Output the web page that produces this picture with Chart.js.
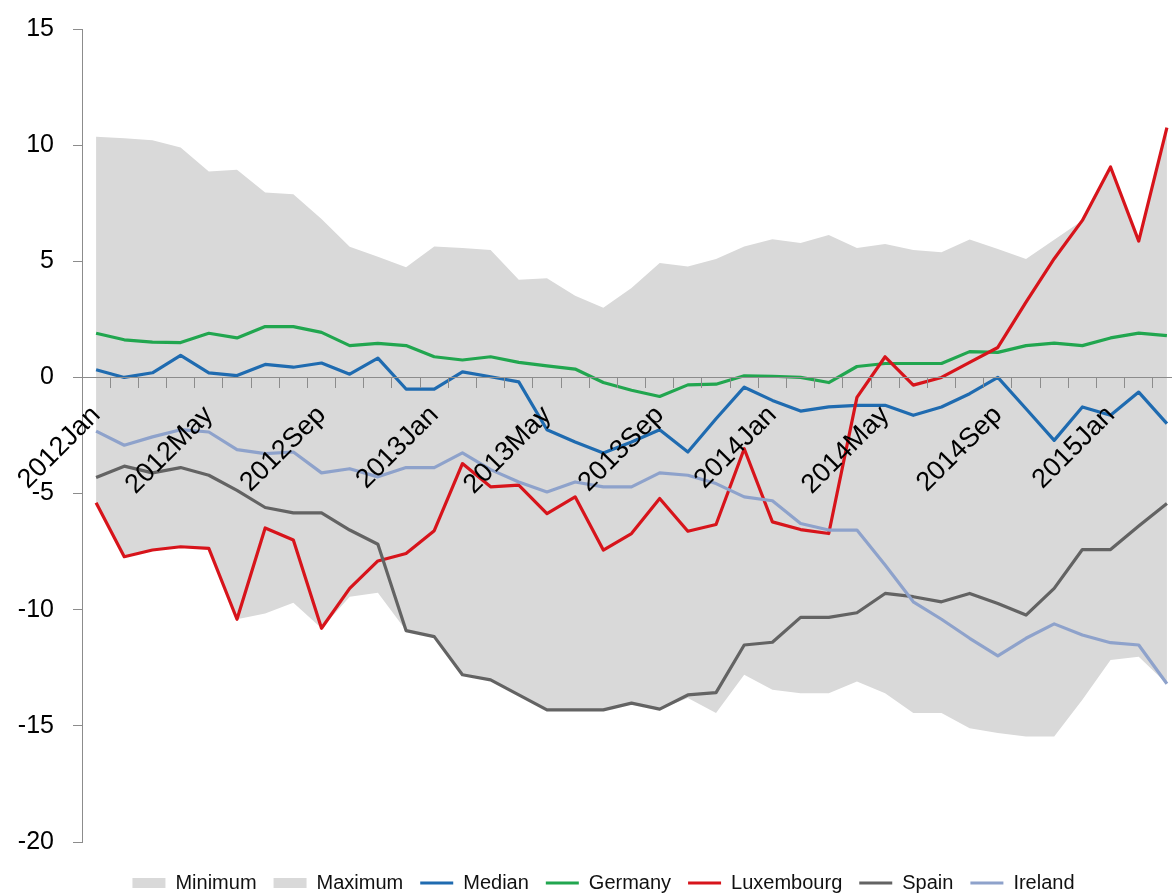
<!DOCTYPE html>
<html>
<head>
<meta charset="utf-8">
<script src="https://cdn.jsdelivr.net/npm/chart.js@4.4.1/dist/chart.umd.min.js"></script>
<style>
html,body{margin:0;padding:0;overflow:hidden;background:#fff;width:1172px;height:893px;}
canvas{display:block;}
</style>
</head>
<body>
<canvas id="c" width="1181" height="903"></canvas>
<script>
const categories = ['2012Jan','2012Feb','2012Mar','2012Apr','2012May','2012Jun','2012Jul','2012Aug','2012Sep','2012Oct','2012Nov','2012Dec',
  '2013Jan','2013Feb','2013Mar','2013Apr','2013May','2013Jun','2013Jul','2013Aug','2013Sep','2013Oct','2013Nov','2013Dec',
  '2014Jan','2014Feb','2014Mar','2014Apr','2014May','2014Jun','2014Jul','2014Aug','2014Sep','2014Oct','2014Nov','2014Dec',
  '2015Jan','2015Feb','2015Mar'];

const minimum = [-5.4,-7.72,-7.43,-7.29,-7.36,-10.41,-10.16,-9.7,-10.8,-9.44,-9.27,-10.9,-11.16,-12.8,-13.02,-13.67,-14.31,-14.31,-14.31,-14.02,-14.28,-13.8,-14.45,-12.8,-13.45,-13.6,-13.6,-13.09,-13.6,-14.45,-14.45,-15.1,-15.31,-15.46,-15.46,-13.88,-12.16,-12.02,-13.19];
const maximum = [10.36,10.3,10.21,9.9,8.87,8.94,7.96,7.89,6.82,5.63,5.2,4.74,5.64,5.57,5.49,4.2,4.27,3.52,3.0,3.85,4.93,4.78,5.1,5.64,5.95,5.79,6.13,5.57,5.74,5.49,5.39,5.94,5.53,5.1,5.93,6.76,9.06,5.87,10.75];
const median = [0.33,0.0,0.2,0.95,0.2,0.08,0.56,0.44,0.62,0.14,0.83,-0.5,-0.5,0.24,0.03,-0.19,-2.25,-2.78,-3.25,-2.78,-2.25,-3.21,-1.78,-0.42,-0.99,-1.45,-1.27,-1.2,-1.2,-1.63,-1.27,-0.7,0.0,-1.35,-2.71,-1.27,-1.63,-0.63,-1.99];
const germany = [1.9,1.62,1.52,1.5,1.9,1.7,2.19,2.19,1.94,1.37,1.47,1.37,0.89,0.75,0.89,0.65,0.5,0.36,-0.22,-0.55,-0.82,-0.32,-0.29,0.07,0.05,0.0,-0.22,0.47,0.6,0.6,0.6,1.11,1.08,1.37,1.48,1.37,1.7,1.91,1.8];
const luxembourg = [-5.4,-7.72,-7.43,-7.29,-7.36,-10.41,-6.48,-7.0,-10.8,-9.08,-7.9,-7.58,-6.6,-3.71,-4.71,-4.64,-5.86,-5.14,-7.43,-6.72,-5.21,-6.62,-6.33,-3.07,-6.22,-6.55,-6.72,-0.86,0.89,-0.33,0.0,0.65,1.29,3.24,5.11,6.76,9.06,5.87,10.75];
const spain = [-4.31,-3.82,-4.11,-3.88,-4.21,-4.86,-5.6,-5.83,-5.83,-6.57,-7.18,-10.9,-11.16,-12.8,-13.02,-13.67,-14.31,-14.31,-14.31,-14.02,-14.28,-13.67,-13.57,-11.52,-11.4,-10.33,-10.33,-10.13,-9.3,-9.44,-9.66,-9.3,-9.73,-10.23,-9.08,-7.41,-7.41,-6.4,-5.43];
const ireland = [-2.31,-2.92,-2.56,-2.25,-2.35,-3.11,-3.28,-3.21,-4.11,-3.93,-4.28,-3.88,-3.88,-3.25,-3.97,-4.5,-4.93,-4.5,-4.71,-4.71,-4.11,-4.21,-4.57,-5.14,-5.31,-6.29,-6.57,-6.57,-8.08,-9.66,-10.41,-11.23,-11.99,-11.23,-10.61,-11.09,-11.42,-11.52,-13.19];

const yTicks = [-20,-15,-10,-5,0,5,10,15];
const labelEvery = 4;

Chart.defaults.font.family = "'Liberation Sans', Arial, sans-serif";
Chart.defaults.color = '#000';

const AREA = '#d9d9d9';
function areaSet(label, data, order) {
  return { label, data, xAxisID: 'x', yAxisID: 'y', order,
    fill: 'origin', backgroundColor: AREA, borderColor: AREA, borderWidth: 0,
    pointRadius: 0, pointStyle: 'rect', pointBackgroundColor: AREA, pointBorderWidth: 0 };
}
function lineSet(label, data, color, order) {
  return { label, data, xAxisID: 'x', yAxisID: 'y', order,
    fill: false, borderColor: color, backgroundColor: color, borderWidth: 3.2,
    pointRadius: 0, pointStyle: 'line', pointBorderColor: color, pointBorderWidth: 3,
    tension: 0, borderJoinStyle: 'round' };
}

const legendShift = {
  id: 'legendShift',
  afterLayout(chart) {
    const l = chart.legend;
    if (l) { l.left += 13; l.right += 13; }
  }
};

new Chart(document.getElementById('c'), {
  type: 'line',
  data: {
    labels: categories,
    datasets: [
      areaSet('Minimum', minimum, 10),
      areaSet('Maximum', maximum, 9),
      lineSet('Median', median, '#1f6bb0', 8),
      lineSet('Germany', germany, '#21a64f', 7),
      lineSet('Luxembourg', luxembourg, '#d7141b', 6),
      lineSet('Spain', spain, '#636363', 5),
      lineSet('Ireland', ireland, '#8ea2cb', 4)
    ]
  },
  plugins: [legendShift],
  options: {
    responsive: false,
    animation: false,
    layout: { padding: { top: 29, right: 0, bottom: 0, left: 0 } },
    plugins: {
      filler: { drawTime: 'beforeDatasetsDraw' },
      tooltip: { enabled: false },
      legend: {
        position: 'bottom',
        labels: {
          usePointStyle: true,
          pointStyleWidth: 33,
          boxHeight: 10,
          padding: 17,
          color: '#111',
          font: { size: 20 },
          sort: (a, b) => a.datasetIndex - b.datasetIndex
        }
      }
    },
    scales: {
      x: {
        type: 'category',
        position: { y: 0 },
        offset: true,
        grid: { offset: true, drawOnChartArea: false, drawTicks: true, tickLength: 10, color: '#8c8c8c', lineWidth: 1, z: 1 },
        border: { color: '#8c8c8c', width: 1, z: 1 },
        ticks: {
          z: 2,
          autoSkip: false, minRotation: 45, maxRotation: 45, padding: 12,
          font: { size: 27 }, color: '#000',
          callback: (v, i) => (i % labelEvery === 0 ? categories[i] : '')
        },
        afterFit: s => { s.height = 0; s.paddingLeft = 0; s.paddingRight = 0; }
      },
      gap: {
        type: 'linear', axis: 'x', position: 'bottom', display: true,
        grid: { display: false }, border: { display: false }, ticks: { display: false },
        afterFit: s => { s.height = 14; s.paddingLeft = 0; s.paddingRight = 0; }
      },
      y: {
        type: 'linear',
        min: -20, max: 15,
        afterBuildTicks: s => { s.ticks = yTicks.map(v => ({ value: v })); },
        grid: { drawOnChartArea: false, drawTicks: true, tickLength: 9, color: '#8c8c8c' },
        border: { color: '#8c8c8c', width: 1 },
        ticks: { padding: 19, font: { size: 25 }, color: '#000' },
        afterFit: s => { s.width = 82; s.paddingTop = 0; s.paddingBottom = 0; }
      }
    }
  }
});
</script>
</body>
</html>
